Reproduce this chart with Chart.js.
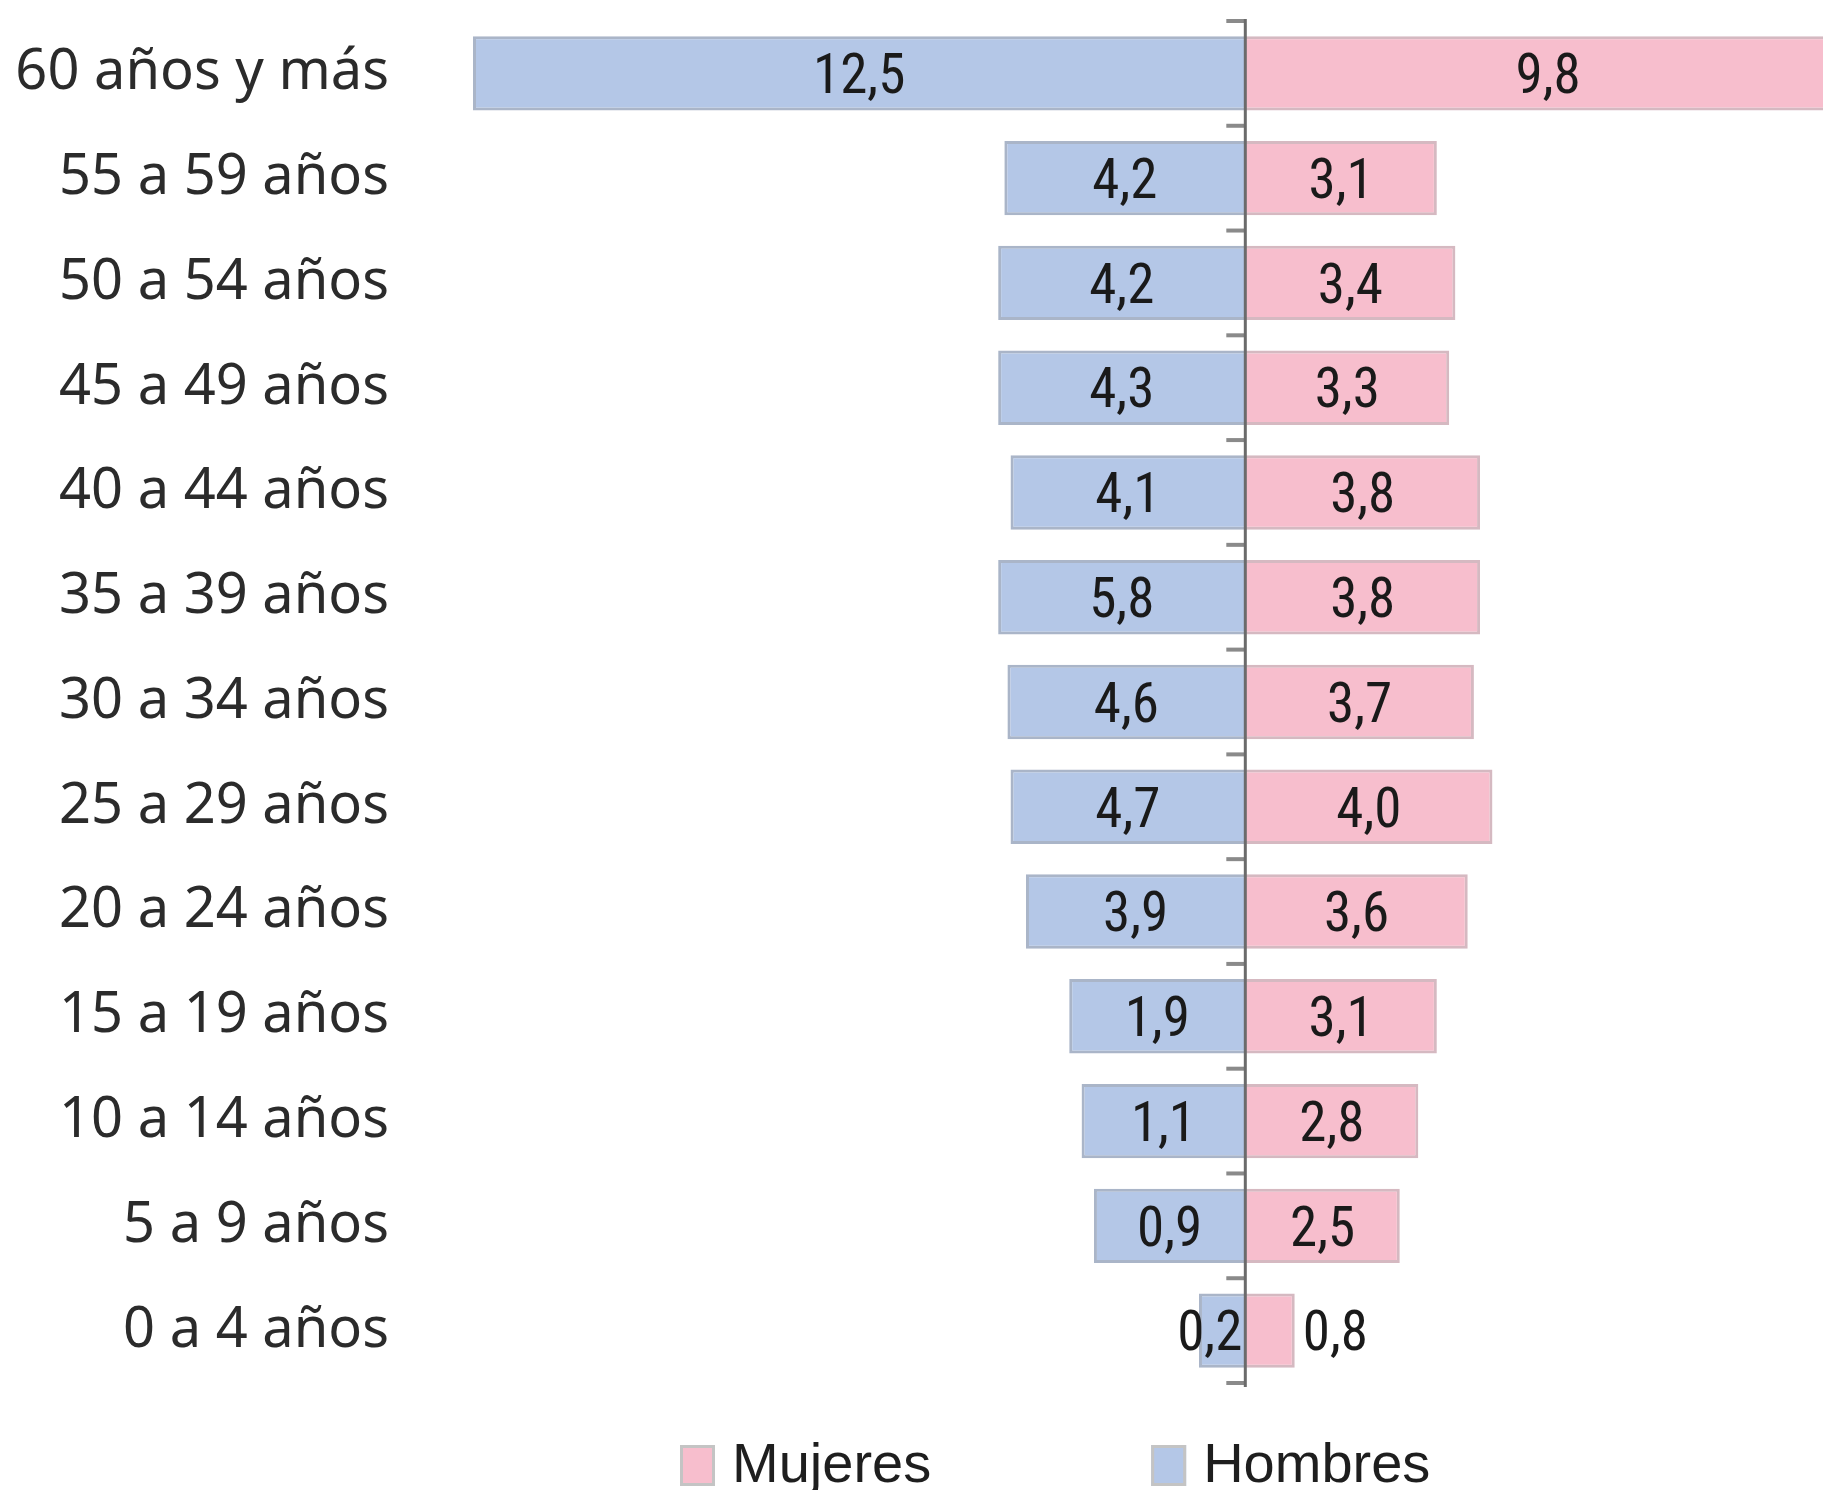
<!DOCTYPE html>
<html>
<head>
<meta charset="utf-8">
<script src="https://cdn.jsdelivr.net/npm/chart.js@4.4.1/dist/chart.umd.min.js"></script>
<style>
  html, body { margin: 0; padding: 0; background: #fff; }
  canvas { display: block; }
</style>
</head>
<body>
<canvas id="piramide" width="1823" height="1490"></canvas>
<script>
const grupos = [
  "60 años y más", "55 a 59 años", "50 a 54 años", "45 a 49 años",
  "40 a 44 años", "35 a 39 años", "30 a 34 años", "25 a 29 años",
  "20 a 24 años", "15 a 19 años", "10 a 14 años", "5 a 9 años", "0 a 4 años"
];
// largo de las barras
const hombres = [12.5, 3.9, 4.0, 4.0, 3.8, 4.0, 3.85, 3.8, 3.55, 2.85, 2.65, 2.45, 0.75];
const mujeres = [9.8, 3.1, 3.4, 3.3, 3.8, 3.8, 3.7, 4.0, 3.6, 3.1, 2.8, 2.5, 0.8];
// etiquetas impresas sobre las barras
const hombresEtiquetas = ["12,5", "4,2", "4,2", "4,3", "4,1", "5,8", "4,6", "4,7", "3,9", "1,9", "1,1", "0,9", "0,2"];
const mujeresEtiquetas = ["9,8", "3,1", "3,4", "3,3", "3,8", "3,8", "3,7", "4,0", "3,6", "3,1", "2,8", "2,5", "0,8"];

const AZUL = "#b4c7e7";
const ROSA = "#f7becd";
const valueFont = "55px 'Liberation Sans Narrow', 'Roboto Condensed', 'Liberation Sans', sans-serif";

// eje central con marcas entre grupos
const ejeCentral = {
  id: "ejeCentral",
  afterDatasetsDraw(chart) {
    const { ctx, chartArea, scales } = chart;
    const x0 = scales.x.getPixelForValue(0);
    ctx.save();
    ctx.strokeStyle = "#8a8a8a";
    ctx.lineWidth = 4;
    for (let i = 0; i <= grupos.length; i++) {
      const y = scales.y.getPixelForValue(i - 0.5);
      ctx.beginPath();
      ctx.moveTo(x0 - 19, y);
      ctx.lineTo(x0, y);
      ctx.stroke();
    }
    ctx.strokeStyle = "#6b6b6b";
    ctx.lineWidth = 3;
    ctx.beginPath();
    ctx.moveTo(x0, chartArea.top - 2);
    ctx.lineTo(x0, chartArea.bottom + 4);
    ctx.stroke();
    ctx.restore();
  }
};

// etiquetas de valor
const etiquetas = {
  id: "etiquetas",
  afterDatasetsDraw(chart) {
    const { ctx } = chart;
    ctx.save();
    ctx.font = valueFont;
    ctx.fillStyle = "#1a1a1a";
    ctx.textBaseline = "middle";
    chart.data.datasets.forEach((ds, di) => {
      const meta = chart.getDatasetMeta(di);
      meta.data.forEach((bar, i) => {
        const txt = ds.etiquetas[i];
        const w = ctx.measureText(txt).width;
        const len = Math.abs(bar.x - bar.base);
        const y = bar.y + 6;
        if (w + 10 < len) {
          ctx.textAlign = "center";
          ctx.fillText(txt, (bar.x + bar.base) / 2, y);
        } else if (bar.x < bar.base) {
          ctx.textAlign = "right";
          ctx.fillText(txt, bar.base - 3, y);
        } else {
          ctx.textAlign = "left";
          ctx.fillText(txt, bar.x + 8, y);
        }
      });
    });
    ctx.restore();
  }
};

// leyenda inferior
const leyenda = {
  id: "leyenda",
  afterDraw(chart) {
    const { ctx } = chart;
    const startX = 680, boxW = 35, boxH = 41, boxTop = 1445, gap = 17, itemGap = 220;
    ctx.save();
    ctx.font = "56px 'Liberation Sans', Arial, sans-serif";
    ctx.textBaseline = "alphabetic";
    ctx.textAlign = "left";
    let x = startX;
    chart.data.datasets.forEach(ds => {
      ctx.fillStyle = ds.backgroundColor;
      ctx.fillRect(x, boxTop, boxW, boxH);
      ctx.strokeStyle = "#c4c4c4";
      ctx.lineWidth = 3;
      ctx.strokeRect(x + 1.5, boxTop + 1.5, boxW - 3, boxH - 3);
      ctx.fillStyle = "#1e1e1e";
      ctx.fillText(ds.label, x + boxW + gap, 1482);
      x += boxW + gap + ctx.measureText(ds.label).width + itemGap;
    });
    ctx.restore();
  }
};

new Chart(document.getElementById("piramide"), {
  type: "bar",
  data: {
    labels: grupos,
    datasets: [
      {
        label: "Mujeres",
        data: mujeres,
        etiquetas: mujeresEtiquetas,
        backgroundColor: ROSA,
        borderColor: "#d5b9c1",
        borderWidth: 3
      },
      {
        label: "Hombres",
        data: hombres.map(v => -v),
        etiquetas: hombresEtiquetas,
        backgroundColor: AZUL,
        borderColor: "#aab5c8",
        borderWidth: 3
      }
    ]
  },
  options: {
    indexAxis: "y",
    responsive: false,
    animation: false,
    devicePixelRatio: 1,
    barPercentage: 0.71,
    categoryPercentage: 1,
    layout: { padding: { top: 21, bottom: 107, left: 0, right: 0 } },
    plugins: {
      legend: { display: false },
      tooltip: { enabled: false }
    },
    scales: {
      x: {
        stacked: true,
        display: false,
        min: -12.5,
        max: 9.35
      },
      y: {
        stacked: true,
        grid: { display: false, drawTicks: false },
        border: { display: false },
        ticks: {
          color: "#2b2b2b",
          padding: 84,
          font: { family: "'Noto Sans', sans-serif", size: 56 }
        },
        afterFit(scale) {
          scale.width = 473;
          scale.paddingTop = 0;
          scale.paddingBottom = 0;
        }
      }
    }
  },
  plugins: [ejeCentral, etiquetas, leyenda]
});
</script>
</body>
</html>
